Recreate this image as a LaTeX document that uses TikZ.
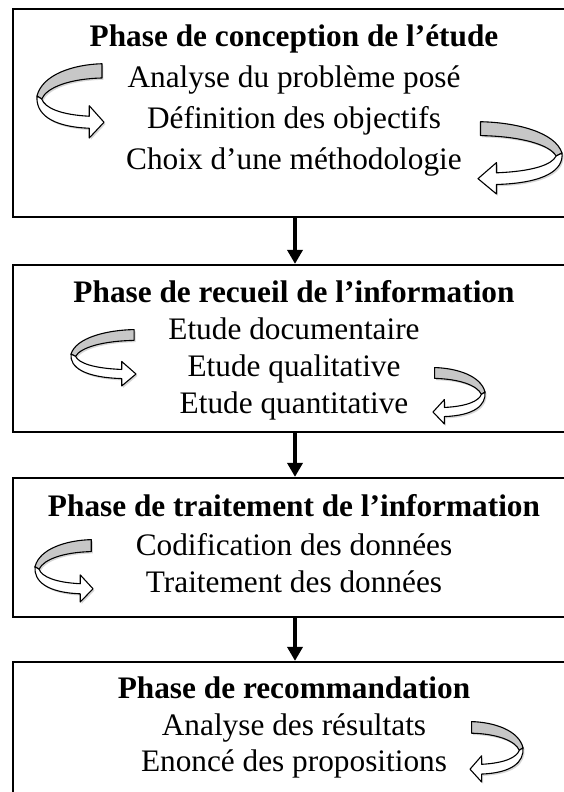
\documentclass[tikz,border=0pt]{standalone}
\usepackage{fontspec}
\setmainfont{Liberation Serif}
\usetikzlibrary{arrows.meta}
\tikzset{
  phasebox/.style={draw, line width=2.2pt, inner sep=0pt, minimum width=564pt},
  ttl/.style={anchor=base, inner sep=0pt, font=\fontsize{31.3}{37}\selectfont\bfseries},
  itm/.style={anchor=base, inner sep=0pt, font=\fontsize{31.3}{37}\selectfont},
  conn/.style={line width=3.6pt, -{Triangle[width=15pt,length=14pt]}},
  ribgray/.style={fill=black!22, draw=black, line width=1.1pt, line join=round},
  ribwhite/.style={fill=white, draw=black, line width=1.1pt, line join=round},
  ribshadow/.style={fill=black, opacity=0.16},
}
\newcommand{\grayband}{(0.97,0.99) .. controls (0.55,0.98) and (0.08,0.85) .. (0,0.56) -- (0.07,0.52) .. controls (0.15,0.68) and (0.5,0.79) .. (0.97,0.80) -- cycle}
\newcommand{\whiteband}{(0,0.56) .. controls (-0.02,0.33) and (0.2,0.15) .. (0.78,0.13) -- (0.78,0.0) -- (1.0,0.21) -- (0.78,0.43) -- (0.78,0.29) .. controls (0.35,0.31) and (0.12,0.40) .. (0.07,0.52) -- cycle}
\newcommand{\curlarrow}[4]{%
  \begin{scope}[shift={(#1+1.5,#2-1.8)},xscale=#3,yscale=#4]
    \fill[ribshadow] \grayband;
    \fill[ribshadow] \whiteband;
  \end{scope}
  \begin{scope}[shift={(#1,#2)},xscale=#3,yscale=#4]
    \draw[ribgray] \grayband;
    \draw[ribwhite] \whiteband;
  \end{scope}}
\begin{document}
\begin{tikzpicture}[x=1pt,y=1pt]
  \useasboundingbox (0,0) rectangle (564,792);
  \clip (0,0) rectangle (564,792);

  % boxes
  \node[phasebox, minimum height=208pt] (b1) at (295,679) {};
  \node[phasebox, minimum height=167pt] (b2) at (295,443.5) {};
  \node[phasebox, minimum height=139pt] (b3) at (295,244.5) {};
  \node[phasebox, minimum height=168pt] (b4) at (295,46) {};

  % box 1 texts
  \node[ttl] (t1) at (294,745) {Phase de conception de l’étude};
  \node[itm] (t1a) at (294,704) {Analyse du problème posé};
  \node[itm] (t1b) at (294,663) {Définition des objectifs};
  \node[itm] (t1c) at (294,622) {Choix d’une méthodologie};

  % box 2 texts
  \node[ttl] (t2) at (294,489) {Phase de recueil de l’information};
  \node[itm] (t2a) at (294,452) {Etude documentaire};
  \node[itm] (t2b) at (294,415) {Etude qualitative};
  \node[itm] (t2c) at (294,378) {Etude quantitative};

  % box 3 texts
  \node[ttl] (t3) at (294,275) {Phase de traitement de l’information};
  \node[itm] (t3a) at (294,236) {Codification des données};
  \node[itm] (t3b) at (294,199) {Traitement des données};

  % box 4 texts
  \node[ttl] (t4) at (294,93) {Phase de recommandation};
  \node[itm] (t4a) at (294,56) {Analyse des résultats};
  \node[itm] (t4b) at (294,20) {Enoncé des propositions};

  % connectors
  \draw[conn] (b1.south) -- (b2.north);
  \draw[conn] (b2.south) -- (b3.north);
  \draw[conn] (b3.south) -- (b4.north);

  % curved ribbon arrows
  \curlarrow{37}{654}{67}{75}
  \curlarrow{562}{598}{-84}{73}
  \curlarrow{71}{406}{65}{57}
  \curlarrow{485}{368}{-52}{57}
  \curlarrow{35}{190}{58}{63}
  \curlarrow{523}{10}{-53}{61}
\end{tikzpicture}
\end{document}
